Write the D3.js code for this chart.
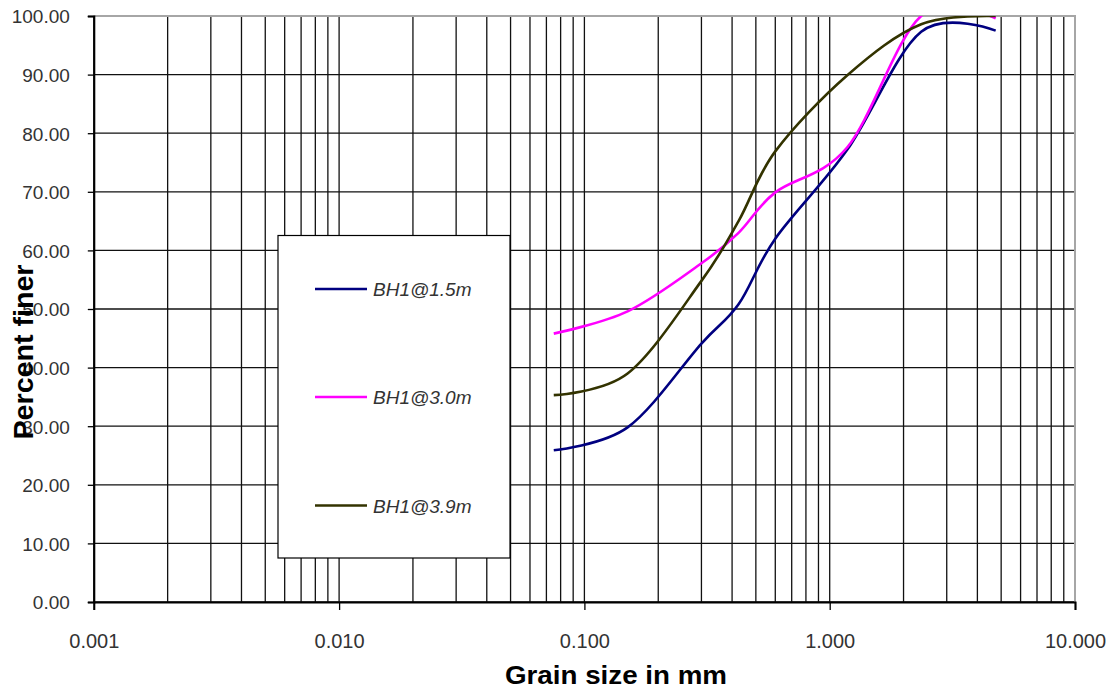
<!DOCTYPE html>
<html>
<head>
<meta charset="utf-8">
<script src="https://d3js.org/d3.v7.min.js"></script>
<style>
  html, body { margin: 0; padding: 0; background: #fff; }
  svg { display: block; font-family: "Liberation Sans", Arial, sans-serif; }
</style>
</head>
<body>
<svg id="chart" width="1115" height="689"></svg>
<script>
// ---- data ----
const grainSizes = [0.075, 0.15, 0.3, 0.425, 0.6, 1.18, 2.36, 4.75];
const bh1_15 = [25.9, 29.8, 44.1, 50.8, 62.0, 77.2, 97.3, 97.5];
const bh1_30 = [45.8, 49.6, 57.8, 63.0, 69.9, 77.6, 100.0, 99.6];
const bh1_39 = [35.3, 39.0, 54.8, 65.0, 76.9, 89.9, 98.6, 100.0];
const seriesNames = ["BH1@1.5m", "BH1@3.0m", "BH1@3.9m"];
const seriesColors = ["#000080", "#FF00FF", "#333300"];
const xTickValues = [0.001, 0.01, 0.1, 1, 10];
const yTickValues = [0, 10, 20, 30, 40, 50, 60, 70, 80, 90, 100];
const xTitle = "Grain size in mm";
const yTitle = "Percent finer";

(function () {
const svg = d3.select("#chart");
const pL = 93.8, pR = 1075, pT = 16, pB = 602;

const x = d3.scaleLog().domain([0.001, 10]).range([pL, pR]);
const y = d3.scaleLinear().domain([0, 100]).range([pB, pT]);

// grid
const grid = svg.append("g");
grid.selectAll("line.v").data(x.ticks()).join("line").attr("class", "v")
  .attr("x1", d => x(d)).attr("x2", d => x(d))
  .attr("y1", pT).attr("y2", pB)
  .attr("stroke", "#111").attr("stroke-width", 1.3);
grid.selectAll("line.h").data(yTickValues).join("line").attr("class", "h")
  .attr("x1", pL).attr("x2", pR)
  .attr("y1", d => y(d)).attr("y2", d => y(d))
  .attr("stroke", "#111").attr("stroke-width", 1.3);

// plot border top/right (gray)
svg.append("path")
  .attr("d", `M${pL},${pT}H${pR}V${pB}`)
  .attr("fill", "none").attr("stroke", "#a6a6a6").attr("stroke-width", 2);

// axes
const yAxis = svg.append("g").attr("transform", `translate(${pL},0)`)
  .call(d3.axisLeft(y).tickValues(yTickValues).tickFormat(d3.format(".2f")).tickSize(6).tickPadding(18));
const xAxis = svg.append("g").attr("transform", `translate(0,${pB})`)
  .call(d3.axisBottom(x).tickValues(xTickValues).tickFormat(d3.format(".3f")).tickSize(8).tickPadding(24));
[yAxis, xAxis].forEach(a => {
  a.select(".domain").attr("stroke", "#000").attr("stroke-width", 2);
  a.selectAll(".tick line").attr("stroke", "#000").attr("stroke-width", 1.3);
  a.selectAll(".tick text").attr("fill", "#333").attr("font-size", 19)
    .attr("font-family", "'Liberation Sans', Arial, sans-serif");
});
yAxis.selectAll(".tick text").attr("dy", "0.36em");
xAxis.selectAll(".tick text").attr("font-size", 20);

// series
svg.append("clipPath").attr("id", "plotclip").append("rect")
  .attr("x", pL).attr("y", pT).attr("width", pR - pL).attr("height", pB - pT);
const allSeries = [bh1_15, bh1_30, bh1_39];
const line = d3.line()
  .x(d => x(d[0])).y(d => y(d[1]))
  .curve(d3.curveCardinal.tension(0));
const lines = svg.append("g").attr("clip-path", "url(#plotclip)");
allSeries.forEach((vals, i) => {
  lines.append("path")
    .datum(grainSizes.map((g, j) => [g, vals[j]]))
    .attr("d", line)
    .attr("fill", "none")
    .attr("stroke", seriesColors[i])
    .attr("stroke-width", 2.6)
    .attr("stroke-linejoin", "round");
});

// legend
const lg = svg.append("g");
lg.append("rect").attr("x", 278).attr("y", 235.5).attr("width", 232).attr("height", 322.5)
  .attr("fill", "#fff").attr("stroke", "#000").attr("stroke-width", 1.2);
const legendY = [289, 397, 505.5];
seriesNames.forEach((name, i) => {
  lg.append("line").attr("x1", 315).attr("x2", 367)
    .attr("y1", legendY[i]).attr("y2", legendY[i])
    .attr("stroke", seriesColors[i]).attr("stroke-width", 2.6);
  lg.append("text").attr("x", 373).attr("y", legendY[i] + 7)
    .attr("font-size", 19).attr("font-style", "italic").attr("fill", "#333")
    .text(name);
});

// titles
svg.append("text").attr("x", 616).attr("y", 684)
  .attr("text-anchor", "middle").attr("font-weight", "bold").attr("font-size", 26)
  .attr("fill", "#000")
  .attr("textLength", 222).attr("lengthAdjust", "spacingAndGlyphs")
  .text(xTitle);
svg.append("text")
  .attr("transform", "translate(33,352) rotate(-90)")
  .attr("text-anchor", "middle").attr("font-weight", "bold").attr("font-size", 27)
  .attr("fill", "#000")
  .attr("textLength", 175).attr("lengthAdjust", "spacingAndGlyphs")
  .text(yTitle);
})();
</script>
</body>
</html>
